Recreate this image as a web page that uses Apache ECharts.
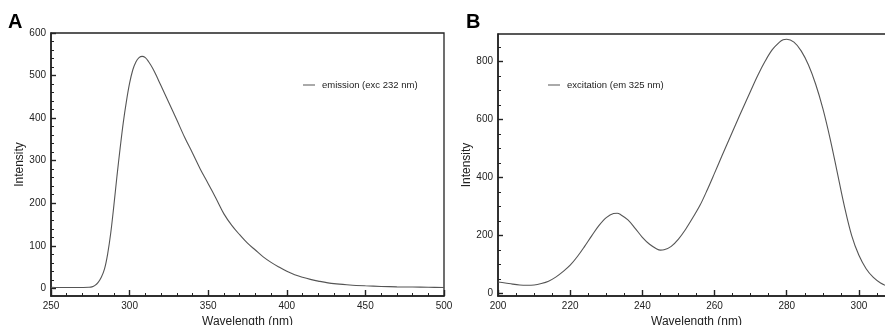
<!DOCTYPE html>
<html><head><meta charset="utf-8">
<script src="https://cdn.jsdelivr.net/npm/echarts@6/dist/echarts.min.js"></script>
<style>html,body{margin:0;padding:0;background:#fff}#c{width:885px;height:325px}</style>
</head><body><div id="c"></div>
<script>
// Panel A: emission spectrum (excitation 232 nm)
const emWavelength = [250,255,260,265,270,274,276,278,280,282,284,286,288,290,292,294,296,298,300,302,304,306,308,310,312,315,318,320,325,330,335,340,345,350,355,360,365,370,375,380,385,390,395,400,405,410,415,420,430,440,450,460,470,480,490,500];
const emIntensity  = [2.5,2,2,1.8,2,2.5,3.5,7,14,26,45,80,130,195,265,330,390,440,482,513,532,542,545,542,533,515,492,476,436,396,355,318,280,246,211,175,148,126,106,90,74,61,50,40,32,26,21,17,11,8,6,4.5,3.5,3,2.5,2];
// Panel B: excitation spectrum (emission 325 nm)
const exWavelength = [200,202,204,206,208,210,212,214,216,218,220,222,224,226,228,230,232,233,234,236,238,240,242,244,245,246,248,250,252,254,256,258,260,262,264,266,268,270,272,274,276,278,279,280,282,284,286,288,290,292,294,296,298,300,302,304,306,308,310];
const exIntensity  = [40,37,33,30,29,30,35,43,57,76,98,128,163,200,235,262,276,277,272,254,225,194,170,154,150,151,163,188,222,262,305,358,415,473,530,587,643,698,752,800,840,866,874,876,866,836,788,722,638,535,418,300,200,132,86,56,37,25,18];

const yMajorA = [0,100,200,300,400,500,600];
const yMinorA = [20,40,60,80,120,140,160,180,220,240,260,280,320,340,360,380,420,440,460,480,520,540,560,580];
const yMajorB = [0,200,400,600,800];
const yMinorB = [50,100,150,250,300,350,450,500,550,650,700,750,850];

const emName = 'emission (exc 232 nm)';
const exName = 'excitation (em 325 nm)';

const FONT = 'Liberation Sans, Arial, Helvetica, sans-serif';
const AX = '#222';
const LINE = '#555';

function xAxisCfg(grid, min, max, interval, minorSplit) {
  return {
    type: 'value', gridIndex: grid, min: min, max: max, interval: interval,
    name: 'Wavelength (nm)', nameLocation: 'middle', nameGap: 16,
    nameTextStyle: { fontFamily: FONT, fontSize: 12, color: '#222' },
    axisLine: { show: true, onZero: false, lineStyle: { color: AX, width: 1.6 } },
    axisTick: { show: true, inside: true, length: 6, lineStyle: { color: AX, width: 1.4 } },
    minorTick: { show: true, splitNumber: minorSplit, length: 3, lineStyle: { color: AX, width: 1 } },
    axisLabel: { fontFamily: FONT, fontSize: 10, color: '#222', margin: 5, showMaxLabel: grid === 0 },
    splitLine: { show: false }
  };
}
function yAxisMajor(grid, min, max, vals) {
  return {
    type: 'value', gridIndex: grid, min: min, max: max, position: 'left',
    name: 'Intensity', nameLocation: 'middle', nameGap: 22, nameRotate: 90,
    nameTextStyle: { fontFamily: FONT, fontSize: 12, color: '#222' },
    axisLine: { show: true, onZero: false, lineStyle: { color: AX, width: 1.6 } },
    axisTick: { show: true, inside: true, length: 5, customValues: vals, lineStyle: { color: AX, width: 1.4 } },
    axisLabel: { fontFamily: FONT, fontSize: 10, color: '#222', margin: 5, customValues: vals },
    splitLine: { show: false }
  };
}
function yAxisMinor(grid, min, max, vals) {
  return {
    type: 'value', gridIndex: grid, min: min, max: max, position: 'left',
    axisLine: { show: false },
    axisTick: { show: true, inside: true, length: 3, customValues: vals, lineStyle: { color: AX, width: 1 } },
    axisLabel: { show: false, customValues: vals },
    splitLine: { show: false }
  };
}

const chart = echarts.init(document.getElementById('c'), null, { renderer: 'canvas' });
chart.setOption({
  animation: false,
  backgroundColor: '#fff',
  grid: [
    { left: 51, top: 33, width: 393, height: 263, show: true, borderColor: AX, borderWidth: 1.3, backgroundColor: 'transparent', outerBoundsMode: 'none', containLabel: false },
    { left: 498, top: 34, width: 397, height: 262, show: true, borderColor: AX, borderWidth: 1.3, backgroundColor: 'transparent', outerBoundsMode: 'none', containLabel: false }
  ],
  xAxis: [
    xAxisCfg(0, 250, 500, 50, 5),
    xAxisCfg(1, 200, 310, 20, 4)
  ],
  yAxis: [
    yAxisMajor(0, -18, 600, yMajorA),
    yAxisMinor(0, -18, 600, yMinorA),
    yAxisMajor(1, -8, 894, yMajorB),
    yAxisMinor(1, -8, 894, yMinorB)
  ],
  legend: [
    { data: [emName], left: 298, top: 75, icon: 'rect', itemWidth: 12, itemHeight: 1, itemGap: 8,
      textStyle: { fontFamily: FONT, fontSize: 9.5, color: '#222', padding: [0,0,0,2] } },
    { data: [exName], left: 543, top: 75, icon: 'rect', itemWidth: 12, itemHeight: 1, itemGap: 8,
      textStyle: { fontFamily: FONT, fontSize: 9.5, color: '#222', padding: [0,0,0,2] } }
  ],
  graphic: [
    { type: 'text', left: 8, top: 12, style: { text: 'A', font: 'bold 20px ' + FONT, fill: '#000' } },
    { type: 'text', left: 466, top: 12, style: { text: 'B', font: 'bold 20px ' + FONT, fill: '#000' } }
  ],
  series: [
    { name: emName, type: 'line', xAxisIndex: 0, yAxisIndex: 0, showSymbol: false, smooth: 0.35,
      lineStyle: { color: LINE, width: 1.1 }, itemStyle: { color: LINE },
      data: emWavelength.map((w, i) => [w, emIntensity[i]]) },
    { name: exName, type: 'line', xAxisIndex: 1, yAxisIndex: 2, showSymbol: false, smooth: 0.35,
      lineStyle: { color: LINE, width: 1.1 }, itemStyle: { color: LINE },
      data: exWavelength.map((w, i) => [w, exIntensity[i]]) }
  ]
});
</script>
</body></html>
